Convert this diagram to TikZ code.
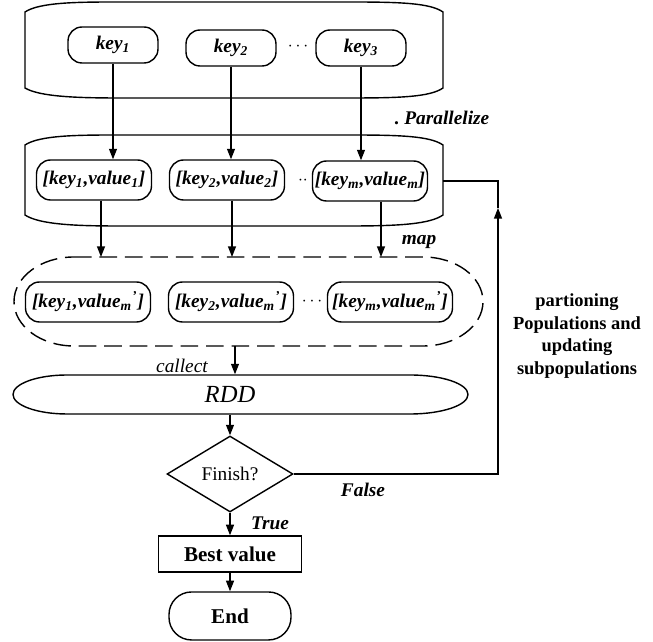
\documentclass[tikz,border=0pt]{standalone}
\usepackage{fontspec}
\setmainfont{Liberation Serif}
\usetikzlibrary{arrows.meta,shapes.geometric,positioning}

\begin{document}
\begin{tikzpicture}[x=0.02cm,y=0.02cm,line width=0.8pt,>={Triangle[length=6pt,width=4.5pt]},
pill/.style = {draw, rounded corners=0.28cm, minimum height=0.8cm, inner sep=1pt, font=\fontsize{11}{13}\selectfont\bfseries\itshape},
lbl/.style = {font=\fontsize{11}{13}\selectfont\bfseries\itshape},
node distance={1.6cm}]
\useasboundingbox (0,0) rectangle (653,642);
% containers
\draw (25,554) -- (25,630) .. controls (40,640) and (80,640) .. (120,640) -- (350,640) .. controls (400,640) and (430,639) .. (443,630) -- (443,554) .. controls (430,545) and (400,544) .. (350,544) -- (120,544) .. controls (80,544) and (40,545) .. (25,554) -- cycle;
\draw (25,427) -- (25,497) .. controls (40,507) and (80,507) .. (120,507) -- (350,507) .. controls (400,507) and (430,506) .. (443,497) -- (443,427) .. controls (430,418) and (400,416) .. (350,416) -- (120,416) .. controls (80,416) and (40,417) .. (25,427) -- cycle;
\draw[dash pattern=on 10pt off 4.5pt] (74,385) -- (423,385) arc[start angle=90,end angle=-90,x radius=60,y radius=44.5] -- (74,296) arc[start angle=270,end angle=90,x radius=60,y radius=44.5] -- cycle;
\draw (67,267) -- (410,267) arc[start angle=90,end angle=-90,x radius=58,y radius=19.5] -- (67,228) arc[start angle=270,end angle=90,x radius=54,y radius=19.5] -- cycle;
% keys
\node[pill,minimum width=1.8cm,minimum height=0.72cm] (k1) at (113,597) {key\textsubscript{1}};
\node[pill,minimum width=1.8cm,minimum height=0.72cm] (k2) at (231,594) {key\textsubscript{2}};
\node[pill,minimum width=1.8cm,minimum height=0.72cm] (k3) at (361,594) {key\textsubscript{3}};
\node (d1) at (298,595) {$\cdots$};
% pairs
\node[pill,minimum width=2.3cm] (p1) at (94,462) {[key\textsubscript{1},value\textsubscript{1}]};
\node[pill,minimum width=2.3cm] (p2) at (227,462) {[key\textsubscript{2},value\textsubscript{2}]};
\node[pill,minimum width=2.3cm] (p3) at (370,461) {[key\textsubscript{m},value\textsubscript{m}]};
\node (d2) at (303,461) {$\cdot\cdot$};
% mapped pairs
\node[pill,minimum width=2.5cm] (m1) at (88,340) {[key\textsubscript{1},value\textsubscript{m}\textsuperscript{'}]};
\node[pill,minimum width=2.5cm] (m2) at (231,340) {[key\textsubscript{2},value\textsubscript{m}\textsuperscript{'}]};
\node[pill,minimum width=2.5cm] (m3) at (390,340) {[key\textsubscript{m},value\textsubscript{m}\textsuperscript{'}]};
\node (d3) at (312,340) {$\cdots$};
% flow
\node[minimum height=0.78cm,inner sep=0pt,font=\fontsize{14}{16}\selectfont\itshape] (rdd) at (230,247.5) {RDD};
\node[draw,diamond,minimum width=2.52cm,minimum height=1.52cm,inner sep=0pt,font=\fontsize{11}{13}\selectfont] (fin) at (230,168) {Finish?};
\node[draw,minimum width=2.86cm,minimum height=0.72cm,font=\fontsize{12}{14}\selectfont\bfseries] (best) [below of=fin] {Best value};
\node[draw,rounded corners=0.45cm,minimum width=2.44cm,minimum height=0.96cm,font=\fontsize{12}{14}\selectfont\bfseries] (stop) [below of=best,node distance=1.24cm] {End};
\coordinate (dtop) at (0,385);
\coordinate (dbot) at (235,296);
\coordinate (fb) at (498,434);
\coordinate (back) at (443,461);
\draw[->] (k1) -- (k1 |- p1.north);
\draw[->] (k2) -- (k2 |- p2.north);
\draw[->] (k3) -- (k3 |- p3.north);
\draw[->] ([xshift=0.14cm]p1.south) -- ([xshift=0.14cm]p1.south |- dtop);
\draw[->] ([xshift=0.1cm]p2.south) -- ([xshift=0.1cm]p2.south |- dtop);
\draw[->] ([xshift=0.22cm]p3.south) -- ([xshift=0.22cm]p3.south |- dtop);
\draw[->] (dbot) -- (dbot |- rdd.north);
\draw[->] (rdd) -- (fin);
\draw[->] (fin) -- (best);
\draw[->] (best) -- (stop);
\draw[->] (fin) -| (fb);
\draw (fb) |- (back);
% labels
\node[lbl] (par) at (442,524) {.\ Parallelize};
\node[lbl] (map) at (419,400) {map};
\node[font=\fontsize{11}{13}\selectfont\itshape] (col) at (182,276) {callect};
\node[lbl] (fls) at (363,152) {False};
\node[lbl] (tru) at (270,119) {True};
\node[align=center,font=\fontsize{10.5}{12.8}\selectfont\bfseries] (note) at (577,306) {partioning\\Populations and\\updating\\subpopulations};
\end{tikzpicture}
\end{document}
